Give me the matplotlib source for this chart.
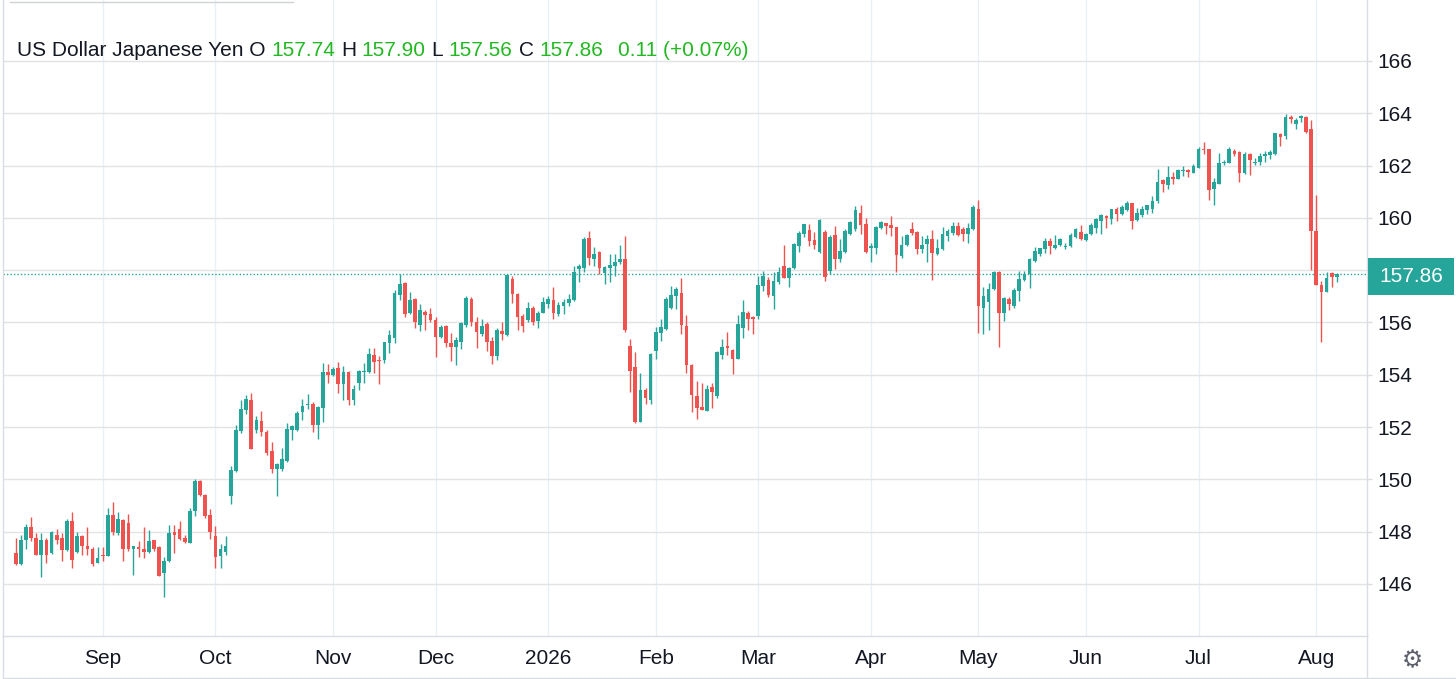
import matplotlib
matplotlib.use('Agg')
import matplotlib.pyplot as plt
import matplotlib.transforms as mtransforms
from matplotlib.lines import Line2D
from matplotlib.patches import Rectangle
import numpy as np
import pandas as pd

# daily USD/JPY candles
opens = [
    147.19, 146.77, 147.67, 148.17, 147.76, 147.12, 147.70, 147.19, 147.89, 147.74,
    147.28, 148.40, 147.21, 147.85, 147.47, 147.35, 146.81, 147.12, 147.06, 148.62,
    147.93, 148.43, 148.34, 147.35, 147.42, 147.35, 147.21, 147.67, 147.42, 146.40,
    146.87, 147.98, 148.11, 147.76, 147.57, 148.79, 149.94, 149.42, 148.62, 147.85,
    147.06, 147.21, 149.38, 150.31, 151.84, 152.67, 153.04, 151.87, 152.22, 151.80,
    151.07, 150.38, 150.41, 150.69, 151.87, 151.90, 152.56, 152.83, 152.89, 152.06,
    152.72, 154.10, 154.00, 154.27, 153.65, 154.10, 153.04, 153.70, 154.10, 154.12,
    154.75, 154.57, 154.57, 155.20, 155.39, 157.04, 157.49, 156.38, 156.91, 155.92,
    156.41, 156.34, 156.11, 155.43, 155.87, 155.21, 155.08, 155.24, 155.90, 156.89,
    156.03, 155.56, 155.94, 155.30, 154.70, 155.68, 155.52, 157.66, 157.08, 156.26,
    156.09, 156.57, 156.07, 156.38, 156.70, 156.85, 156.32, 156.64, 156.74, 156.87,
    158.04, 158.10, 159.22, 158.42, 158.70, 157.89, 158.10, 158.17, 158.32, 158.42,
    155.10, 154.29, 152.19, 153.41, 153.05, 154.91, 155.61, 155.74, 156.57, 157.02,
    157.12, 155.87, 154.39, 153.20, 152.77, 152.62, 153.53, 153.20, 154.76, 155.10,
    154.93, 154.59, 155.80, 156.38, 156.19, 156.25, 157.41, 157.64, 157.02, 157.56,
    158.14, 157.69, 158.07, 158.94, 159.39, 159.52, 159.14, 158.69, 159.46, 157.98,
    159.33, 158.41, 158.69, 159.39, 159.58, 160.17, 159.75, 158.86, 158.86, 159.62,
    159.79, 159.71, 159.64, 158.54, 158.95, 159.58, 159.47, 158.79, 159.01, 159.20,
    158.60, 158.79, 159.30, 159.43, 159.68, 159.58, 159.37, 159.56, 160.32, 156.55,
    156.79, 157.27, 157.93, 156.36, 156.89, 156.61, 157.21, 157.63, 157.84, 158.35,
    158.60, 158.79, 159.11, 158.85, 158.98, 158.89, 158.92, 159.28, 159.47, 159.15,
    159.37, 159.62, 159.88, 160.07, 159.97, 160.35, 160.13, 160.30, 160.55, 159.92,
    160.09, 160.30, 160.35, 160.64, 161.45, 161.24, 161.57, 161.50, 161.79, 161.83,
    161.73, 161.92, 162.65, 162.62, 161.09, 161.28, 162.09, 162.11, 162.56, 162.50,
    161.71, 162.45, 162.09, 162.15, 162.37, 162.41, 162.45, 163.21, 163.13, 163.85,
    163.59, 163.81, 163.87, 163.39, 159.48, 157.44, 157.15, 157.88, 157.74,
]
highs = [
    147.74, 147.89, 148.30, 148.56, 147.96, 147.96, 147.76, 148.02, 148.11, 147.96,
    148.47, 148.76, 147.98, 147.89, 148.17, 147.40, 147.40, 147.42, 148.91, 149.14,
    148.76, 148.47, 148.66, 147.47, 147.66, 148.17, 148.06, 147.70, 147.47, 147.04,
    148.27, 148.27, 148.40, 147.89, 148.91, 150.00, 149.96, 149.45, 148.87, 148.21,
    147.51, 147.83, 150.50, 152.06, 153.04, 153.24, 153.30, 152.44, 152.60, 151.90,
    151.42, 150.63, 151.20, 152.15, 152.06, 152.60, 153.07, 153.26, 152.94, 152.79,
    154.44, 154.41, 154.31, 154.50, 154.34, 154.16, 153.61, 154.19, 154.46, 155.01,
    155.01, 154.73, 155.26, 155.71, 157.23, 157.84, 157.55, 157.17, 156.95, 156.72,
    156.47, 156.57, 156.19, 155.90, 155.90, 155.58, 155.43, 156.00, 157.02, 156.96,
    156.19, 156.13, 156.00, 155.43, 155.77, 156.03, 157.81, 157.76, 157.12, 156.32,
    156.77, 156.61, 156.45, 156.99, 157.02, 157.34, 156.77, 156.89, 157.08, 158.17,
    158.23, 159.25, 159.48, 158.87, 158.74, 158.17, 158.61, 158.61, 158.96, 159.29,
    155.38, 154.87, 154.05, 153.50, 154.84, 155.84, 156.12, 156.96, 157.41, 157.34,
    157.69, 156.28, 154.42, 153.78, 153.69, 153.62, 153.69, 154.91, 155.38, 155.64,
    154.97, 156.28, 156.85, 156.44, 156.25, 157.77, 157.98, 157.73, 157.94, 158.11,
    158.97, 158.11, 159.03, 159.48, 159.78, 159.78, 159.46, 159.97, 159.52, 159.33,
    159.68, 159.20, 159.58, 159.87, 160.47, 160.51, 160.00, 159.05, 159.68, 159.87,
    159.81, 160.06, 159.66, 159.30, 159.37, 159.85, 159.49, 159.30, 159.33, 159.53,
    159.20, 159.66, 159.58, 159.85, 159.85, 159.66, 159.81, 160.51, 160.70, 157.37,
    157.50, 157.97, 157.97, 156.99, 156.99, 157.31, 157.97, 157.97, 158.48, 158.88,
    158.86, 159.24, 159.24, 159.36, 159.24, 159.05, 159.43, 159.62, 159.71, 159.43,
    159.79, 160.00, 160.13, 160.09, 160.35, 160.43, 160.48, 160.64, 160.58, 160.39,
    160.45, 160.51, 160.83, 161.86, 161.50, 161.98, 161.75, 161.86, 161.98, 161.88,
    162.05, 162.69, 162.90, 162.62, 161.54, 162.47, 162.20, 162.69, 162.62, 162.56,
    162.50, 162.47, 162.28, 162.47, 162.54, 162.60, 163.26, 163.24, 163.98, 163.94,
    163.81, 163.94, 163.90, 163.75, 160.88, 157.57, 157.91, 157.91, 157.90,
]
lows = [
    146.72, 146.72, 147.32, 147.64, 147.09, 146.26, 146.81, 147.16, 147.51, 146.89,
    147.25, 146.61, 147.19, 147.09, 147.12, 146.68, 146.79, 146.87, 147.06, 147.89,
    147.87, 146.87, 147.25, 146.36, 147.02, 146.99, 147.19, 147.25, 146.29, 145.49,
    146.84, 147.19, 147.67, 147.57, 147.55, 148.59, 149.36, 148.53, 147.72, 146.61,
    146.61, 147.12, 149.07, 150.29, 151.77, 152.51, 151.16, 151.77, 151.65, 150.95,
    150.25, 149.38, 150.31, 150.65, 151.52, 151.84, 152.28, 152.70, 151.81, 151.54,
    152.18, 153.70, 153.96, 153.32, 153.02, 152.85, 152.83, 153.42, 153.70, 154.06,
    154.06, 153.65, 154.44, 154.82, 155.20, 156.87, 156.22, 156.32, 155.80, 155.67,
    155.73, 156.03, 154.67, 155.39, 155.05, 154.54, 154.38, 154.98, 155.81, 155.85,
    155.01, 155.49, 154.92, 154.43, 154.56, 155.34, 155.49, 156.74, 155.72, 155.62,
    156.03, 155.90, 155.77, 156.36, 156.57, 156.15, 156.26, 156.32, 156.61, 156.83,
    157.55, 157.91, 158.19, 158.17, 157.87, 157.47, 157.53, 157.78, 158.23, 155.64,
    153.33, 152.15, 152.19, 152.89, 152.89, 154.59, 155.29, 155.71, 156.53, 156.53,
    155.55, 154.07, 152.56, 152.30, 152.66, 152.60, 152.73, 153.11, 154.59, 154.74,
    154.03, 154.59, 155.42, 155.71, 155.55, 156.15, 157.21, 156.96, 156.51, 157.47,
    157.69, 157.34, 158.05, 158.69, 159.26, 158.94, 158.79, 158.65, 157.60, 157.85,
    158.03, 158.31, 158.67, 159.34, 159.49, 159.39, 158.67, 158.31, 158.60, 159.56,
    159.37, 159.30, 157.91, 158.48, 158.92, 159.33, 158.63, 158.64, 158.31, 157.63,
    158.57, 158.77, 159.11, 159.33, 159.30, 159.11, 159.02, 159.53, 155.59, 155.56,
    155.72, 157.24, 155.07, 156.04, 156.48, 156.57, 156.83, 157.59, 157.33, 158.31,
    158.54, 158.64, 158.60, 158.79, 158.94, 158.81, 158.89, 159.24, 159.17, 159.11,
    159.33, 159.43, 159.40, 159.62, 159.75, 159.88, 160.09, 160.26, 159.58, 159.88,
    160.04, 160.13, 160.17, 160.55, 160.99, 161.12, 161.28, 161.47, 161.60, 161.58,
    161.70, 161.92, 162.43, 160.68, 160.51, 161.28, 162.01, 162.09, 162.37, 161.37,
    161.68, 161.64, 162.03, 162.03, 162.15, 162.24, 162.41, 162.73, 163.01, 163.64,
    163.39, 163.68, 163.26, 157.99, 157.44, 155.27, 157.15, 157.35, 157.56,
]
closes = [
    146.77, 147.70, 148.17, 147.76, 147.12, 147.70, 147.12, 147.98, 147.70, 147.28,
    148.40, 146.91, 147.85, 147.44, 147.32, 146.77, 147.00, 147.06, 148.62, 147.98,
    148.47, 147.32, 147.32, 147.44, 147.32, 147.23, 147.64, 147.35, 146.32, 146.87,
    147.96, 147.89, 147.72, 147.60, 148.79, 149.94, 149.40, 148.59, 147.98, 147.04,
    147.32, 147.44, 150.35, 151.90, 152.70, 153.07, 151.16, 152.28, 151.81, 151.01,
    150.41, 150.60, 150.76, 151.92, 152.03, 152.54, 152.81, 152.89, 152.09, 152.76,
    154.10, 154.00, 154.21, 153.65, 154.10, 153.04, 153.45, 154.15, 154.15, 154.79,
    154.50, 154.53, 155.26, 155.52, 157.14, 157.46, 156.32, 156.85, 156.03, 156.47,
    156.30, 156.11, 155.43, 155.84, 155.23, 155.08, 155.34, 155.96, 156.92, 156.00,
    155.62, 155.85, 155.24, 154.73, 155.72, 155.56, 157.81, 157.08, 156.22, 155.87,
    156.57, 156.03, 156.38, 156.77, 156.89, 156.36, 156.66, 156.79, 156.89, 157.91,
    158.14, 159.19, 158.45, 158.61, 158.10, 158.13, 158.19, 158.32, 158.42, 155.71,
    154.14, 152.18, 153.41, 153.11, 154.80, 155.64, 155.83, 156.90, 157.05, 157.28,
    155.89, 154.37, 153.24, 152.73, 152.66, 153.46, 153.33, 154.87, 155.06, 155.04,
    154.61, 155.93, 156.41, 156.13, 156.13, 157.43, 157.77, 157.05, 157.60, 157.92,
    157.69, 158.07, 159.01, 159.42, 159.78, 159.10, 158.97, 159.91, 157.73, 159.27,
    158.44, 158.73, 159.49, 159.85, 160.29, 159.71, 158.69, 158.92, 159.64, 159.83,
    159.68, 159.62, 158.57, 158.98, 159.33, 159.43, 158.79, 158.98, 159.20, 158.64,
    158.86, 159.37, 159.49, 159.68, 159.33, 159.37, 159.60, 160.41, 156.61, 157.01,
    157.27, 157.93, 156.36, 156.95, 156.70, 157.23, 157.65, 157.84, 158.41, 158.73,
    158.83, 159.11, 158.92, 158.98, 159.20, 158.94, 159.33, 159.56, 159.20, 159.37,
    159.71, 159.94, 160.09, 160.00, 160.32, 160.13, 160.43, 160.55, 159.88, 160.19,
    160.35, 160.48, 160.64, 161.37, 161.28, 161.57, 161.47, 161.83, 161.83, 161.75,
    161.98, 162.65, 162.60, 161.06, 161.37, 162.11, 162.14, 162.62, 162.43, 161.73,
    162.45, 162.22, 162.15, 162.37, 162.45, 162.50, 163.24, 163.08, 163.85, 163.77,
    163.75, 163.90, 163.30, 159.48, 157.44, 157.15, 157.70, 157.75, 157.86,
]
holidays = ['2025-12-25', '2026-01-01', '2026-04-03']
price_ticks = [146, 148, 150, 152, 154, 156, 158, 160, 162, 164, 166]
title = 'US Dollar Japanese Yen'

dates = pd.bdate_range('2025-08-07', '2026-08-07').drop(pd.to_datetime(holidays))

up_color = '#26a69a'
down_color = '#ef5350'
value_green = '#22b822'
text_color = '#131722'
grid_h = '#e1e3e6'
grid_v = '#e8f0f5'
border = '#d9dce1'
fs = 15

plt.rcParams['font.family'] = ['Liberation Sans', 'DejaVu Sans']

W, H = 1456, 679
fig = plt.figure(figsize=(W / 100, H / 100), dpi=100)
ax = fig.add_axes([3 / W, (H - 636) / H, (1367 - 3) / W, 636 / H])

o = np.array(opens)
h = np.array(highs)
l = np.array(lows)
c = np.array(closes)
x = np.arange(len(c))
colors = np.where(c >= o, up_color, down_color)

ax.vlines(x, l, h, colors=colors, linewidth=1, zorder=3)
ax.bar(x, np.maximum(np.abs(c - o), 0.04), bottom=np.minimum(o, c), width=0.72,
       color=colors, linewidth=0, zorder=3)

ax.set_xlim(-2.48, 263.9)
ax.set_ylim(144.01, 168.33)

last = c[-1]

# month ticks at the first bar of each month
month_pos = [i for i in range(1, len(dates)) if dates[i].month != dates[i - 1].month]
month_lab = [str(dates[i].year) if dates[i].month == 1 else dates[i].strftime('%b') for i in month_pos]
ax.set_xticks(month_pos)
ax.set_xticklabels(month_lab)
ax.set_yticks(price_ticks)
# the last-price badge hides the tick label it sits on
ax.set_yticklabels(['' if abs(p - last) < 0.9 else str(p) for p in price_ticks])
ax.yaxis.tick_right()
ax.tick_params(axis='x', length=0, pad=9, labelsize=fs, labelcolor=text_color)
ax.tick_params(axis='y', length=3.6, width=1, color=border, pad=3.6, labelsize=fs,
               labelcolor=text_color)
ax.set_axisbelow(True)
ax.yaxis.grid(True, color=grid_h, linewidth=1)
ax.xaxis.grid(True, color=grid_v, linewidth=1)
ax.spines['top'].set_visible(False)
for side in ['left', 'right', 'bottom']:
    ax.spines[side].set_color(border)
    ax.spines[side].set_linewidth(1)

# last price line and badge
ax.axhline(last, color=up_color, linestyle=(0, (1, 1.5)), linewidth=1, zorder=2)
blend = mtransforms.blended_transform_factory(ax.transAxes, ax.transData)
x0 = (1368 - 3) / 1364
x1 = (1454 - 3) / 1364
ax.add_patch(Rectangle((x0, last - 0.81), x1 - x0, 1.41, transform=blend,
                       facecolor=up_color, edgecolor='none', clip_on=False, zorder=5))
ax.text((x0 + x1) / 2, last - 0.1, f'{last:.2f}', transform=blend, ha='center', va='center',
        color='white', fontsize=fs, zorder=6, clip_on=False)

# header legend
change = c[-1] - c[-2]
pct = change / c[-2] * 100
pieces = [
    (f'{title} O', text_color, 1), (f'{o[-1]:.2f}', value_green, 1),
    ('H', text_color, 1), (f'{h[-1]:.2f}', value_green, 1),
    ('L', text_color, 1), (f'{l[-1]:.2f}', value_green, 1),
    ('C', text_color, 1), (f'{c[-1]:.2f}', value_green, 2.6),
    (f'{change:.2f} ({pct:+.2f}%)', value_green, 0),
]
fig.canvas.draw()
renderer = fig.canvas.get_renderer()
probe_a = fig.text(0, 0, 'x x', fontsize=fs)
probe_b = fig.text(0, 0, 'xx', fontsize=fs)
space_w = probe_a.get_window_extent(renderer).width - probe_b.get_window_extent(renderer).width
probe_a.remove()
probe_b.remove()
xpos = 17
for text, col, gap in pieces:
    t = fig.text(xpos / W, 1 - 51 / H, text, color=col, fontsize=fs, ha='left', va='center')
    xpos += t.get_window_extent(renderer).width + gap * space_w

# frame bits
fig.add_artist(Line2D([1367 / W, 1367 / W], [0, (H - 636) / H], color=border, linewidth=1))
fig.add_artist(Line2D([3 / W, 3 / W], [0, (H - 636) / H], color=border, linewidth=1))
fig.add_artist(Line2D([3 / W, 1], [1.5 / H, 1.5 / H], color=border, linewidth=1))
fig.add_artist(Line2D([10 / W, 293 / W], [1 - 2 / H, 1 - 2 / H], color='#cfd2d6', linewidth=1))
fig.text(1412 / W, 1 - 660 / H, '\u2699', fontsize=17, color='#5d606b', ha='center', va='center',
         family=['DejaVu Sans'])

fig.savefig('out.png', dpi=100)
